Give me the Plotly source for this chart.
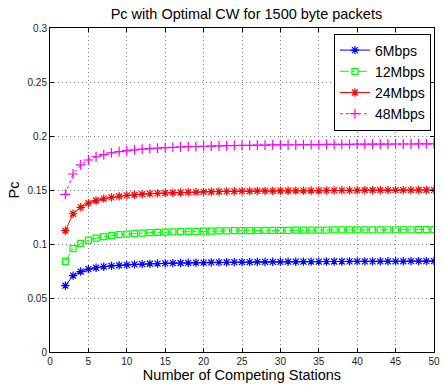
import plotly.graph_objects as go

stations = list(range(2, 51))

pc_6mbps = [0.0614, 0.0707, 0.0745, 0.0767, 0.0780, 0.0790, 0.0797, 0.0803, 0.0807,
            0.0811, 0.0814, 0.0817, 0.0819, 0.0821, 0.0823, 0.0824, 0.0826, 0.0827, 0.0828,
            0.0829, 0.0830, 0.0831, 0.0832, 0.0832, 0.0833, 0.0834, 0.0834, 0.0835, 0.0835,
            0.0836, 0.0836, 0.0837, 0.0837, 0.0837, 0.0838, 0.0838, 0.0838, 0.0839, 0.0839,
            0.0839, 0.0839, 0.0840, 0.0840, 0.0840, 0.0840, 0.0841, 0.0841, 0.0841, 0.0841]

pc_12mbps = [0.0840, 0.0957, 0.1005, 0.1035, 0.1054, 0.1068, 0.1078, 0.1086, 0.1092,
             0.1097, 0.1101, 0.1105, 0.1108, 0.1110, 0.1112, 0.1114, 0.1116, 0.1117, 0.1119,
             0.1120, 0.1121, 0.1122, 0.1123, 0.1124, 0.1124, 0.1125, 0.1126, 0.1126, 0.1127,
             0.1127, 0.1128, 0.1128, 0.1129, 0.1129, 0.1129, 0.1130, 0.1130, 0.1130, 0.1131,
             0.1131, 0.1131, 0.1131, 0.1132, 0.1132, 0.1132, 0.1132, 0.1133, 0.1133, 0.1133]

pc_24mbps = [0.1123, 0.1280, 0.1340, 0.1378, 0.1403, 0.1420, 0.1432, 0.1442, 0.1450,
             0.1456, 0.1461, 0.1466, 0.1469, 0.1472, 0.1475, 0.1477, 0.1479, 0.1481, 0.1483,
             0.1484, 0.1486, 0.1487, 0.1488, 0.1489, 0.1490, 0.1491, 0.1491, 0.1492, 0.1493,
             0.1493, 0.1494, 0.1494, 0.1495, 0.1495, 0.1496, 0.1496, 0.1497, 0.1497, 0.1497,
             0.1498, 0.1498, 0.1498, 0.1499, 0.1499, 0.1499, 0.1499, 0.1500, 0.1500, 0.1500]

pc_48mbps = [0.1460, 0.1648, 0.1733, 0.1778, 0.1808, 0.1828, 0.1843, 0.1855, 0.1864,
             0.1872, 0.1878, 0.1883, 0.1888, 0.1892, 0.1895, 0.1898, 0.1901, 0.1903, 0.1905,
             0.1907, 0.1909, 0.1910, 0.1912, 0.1913, 0.1914, 0.1915, 0.1916, 0.1917, 0.1918,
             0.1919, 0.1919, 0.1920, 0.1921, 0.1921, 0.1922, 0.1922, 0.1923, 0.1923, 0.1924,
             0.1924, 0.1925, 0.1925, 0.1925, 0.1926, 0.1926, 0.1926, 0.1927, 0.1927, 0.1927]

x_ticks = [0, 5, 10, 15, 20, 25, 30, 35, 40, 45, 50]
y_ticks = [0, 0.05, 0.1, 0.15, 0.2, 0.25, 0.3]
y_tick_labels = ["0", "0.05", "0.1", "0.15", "0.2", "0.25", "0.3"]

series = [
    ("6Mbps", pc_6mbps, "#0000ff", "solid", "asterisk-open", 7),
    ("12Mbps", pc_12mbps, "#00ff00", "dashdot", "square-open", 6),
    ("24Mbps", pc_24mbps, "#ff0000", "solid", "asterisk-open", 7),
    ("48Mbps", pc_48mbps, "#ff00ff", "dot", "cross-thin-open", 7),
]

FONT = "Liberation Sans, Arial, sans-serif"

fig = go.Figure()
for name, vals, color, dash, sym, size in series:
    fig.add_trace(go.Scatter(
        x=stations, y=vals, name=name, mode="lines+markers",
        line=dict(color=color, width=1, dash=dash),
        marker=dict(symbol=sym, size=size, color=color,
                    line=dict(color=color, width=1.2)),
    ))

axis_common = dict(
    showline=True, linecolor="black", linewidth=1, mirror="ticks",
    ticks="inside", ticklen=4, tickcolor="black",
    showgrid=True, gridcolor="#808080", griddash="1px,3px", gridwidth=1,
    zeroline=False, ticklabeloverflow="allow",
    tickfont=dict(family=FONT, size=10, color="#222"),
)

fig.update_xaxes(range=[0, 50], tickvals=x_ticks, ticktext=[str(t) for t in x_ticks],
                 title=dict(text="Number of Competing Stations", standoff=1,
                            font=dict(family=FONT, size=14.5, color="black")),
                 **axis_common)
fig.update_yaxes(range=[0, 0.3], tickvals=y_ticks, ticktext=y_tick_labels,
                 title=dict(text="Pc", standoff=4,
                            font=dict(family=FONT, size=14.5, color="black")),
                 **axis_common)

fig.update_layout(
    width=444, height=388,
    margin=dict(l=50, r=4, t=28, b=36),
    paper_bgcolor="white", plot_bgcolor="white",
    title=dict(text="Pc with Optimal CW for 1500 byte packets", x=0.555, xanchor="center",
               y=0.963, yanchor="middle",
               font=dict(family=FONT, size=14.5, color="black")),
    legend=dict(x=0.992, y=0.983, xanchor="right", yanchor="top",
                bgcolor="white", bordercolor="black", borderwidth=1,
                font=dict(family=FONT, size=14, color="black"),
                tracegroupgap=0, itemwidth=30),
    showlegend=True,
)

fig.write_html("out.html", config={"displayModeBar": False},
               post_script="document.body.style.margin='0';document.body.style.overflow='hidden';")
